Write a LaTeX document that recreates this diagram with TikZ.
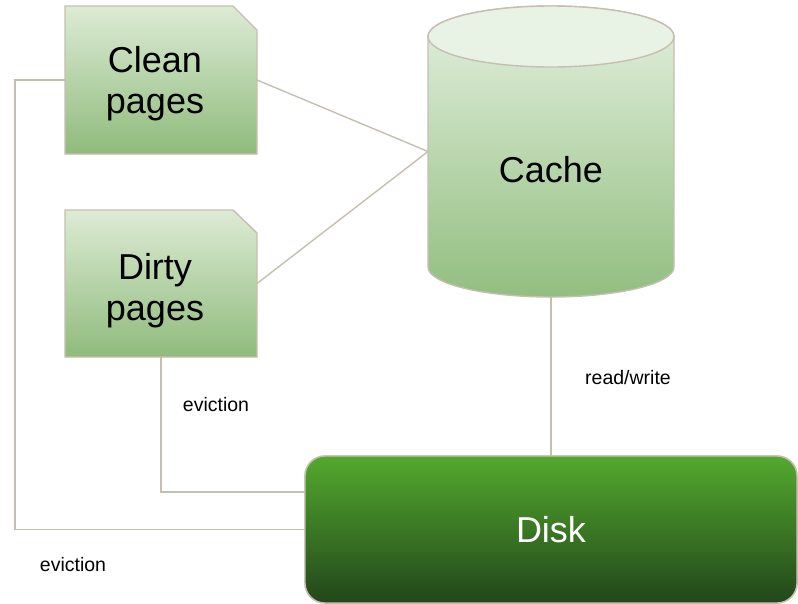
\documentclass[tikz,border=0pt]{standalone}
\usepackage{fontspec}
\setmainfont{Liberation Sans}
\definecolor{linec}{HTML}{C6BFB1}
\definecolor{pagetop}{HTML}{DDEBD5}
\definecolor{pagebot}{HTML}{8FBB7C}
\definecolor{cachetop}{HTML}{E9F3E5}
\definecolor{cachebodytop}{HTML}{E4F0DF}
\definecolor{cachebot}{HTML}{92BE80}
\definecolor{disktop}{HTML}{53A92E}
\definecolor{diskmid}{HTML}{438A27}
\definecolor{diskbot}{HTML}{22461A}
\tikzset{
  conn/.style={draw=linec, line width=1.4pt},
  border/.style={draw=linec, line width=1.4pt},
  pageshade/.style={border, top color=pagetop, bottom color=pagebot},
  bigtxt/.style={font=\fontsize{36}{41}\selectfont, align=center, inner sep=0pt},
  lbl/.style={font=\fontsize{19.5}{23}\selectfont, inner sep=0pt},
  box/.style={inner sep=0pt, outer sep=0pt, draw=none}
}
\begin{document}
\begin{tikzpicture}[x=1pt,y=-1pt]
\useasboundingbox (0,0) rectangle (798,603);
% connectors first (behind shapes)
\node[box, minimum width=192pt, minimum height=148pt] (clean) at (161,80) {};
\node[box, minimum width=192pt, minimum height=147pt] (dirty) at (161,283.5) {};
\node[box, minimum width=246pt, minimum height=291pt] (cachebox) at (551,151.5) {};
\node[box, rounded corners=20pt, minimum width=492pt, minimum height=147pt,
      border, top color=disktop, middle color=diskmid, bottom color=diskbot] (disk) at (551,529.5) {};
\coordinate (lbend) at (15,80);
\draw[conn] (clean.east) -- (cachebox.west);
\draw[conn] (dirty.east) -- (cachebox.west);
\draw[conn] (cachebox.south) -- (disk.north);
\draw[conn] (clean.west) -- (lbend) |- (disk.west);
\draw[conn] (dirty.south) |- ([yshift=37.5pt]disk.west);
% pages
\shade[pageshade] (65,6) -- (233,6) -- (257,30) -- (257,154) -- (65,154) -- cycle;
\shade[pageshade] (65,210) -- (233,210) -- (257,233) -- (257,357) -- (65,357) -- cycle;
% cache cylinder
\shade[border, top color=cachebodytop, bottom color=cachebot]
  (428,36.5) -- (428,267) arc[start angle=180, end angle=0, x radius=123, y radius=30]
  -- (674,36.5) arc[start angle=0, end angle=-180, x radius=123, y radius=30.5] -- cycle;
\filldraw[border, fill=cachetop] (551,36.5) ellipse [x radius=123, y radius=30.5];
% disk redraw on top of connectors
\node[box, rounded corners=20pt, minimum width=492pt, minimum height=147pt,
      border, top color=disktop, middle color=diskmid, bottom color=diskbot,
      text=white, font=\fontsize{36}{41}\selectfont] (disklbl) at (551,529.5) {Disk};
% texts
\node[bigtxt] (cleantxt) at (155,84) {Clean\\pages};
\node[bigtxt] (dirtytxt) at (155,291) {Dirty\\pages};
\node[bigtxt] (cachetxt) at (551,170) {Cache};
\node[lbl] (rw) at (628,378) {read/write};
\node[lbl] (ev1) at (216,405) {eviction};
\node[lbl] (ev2) at (73,565) {eviction};
\end{tikzpicture}
\end{document}
